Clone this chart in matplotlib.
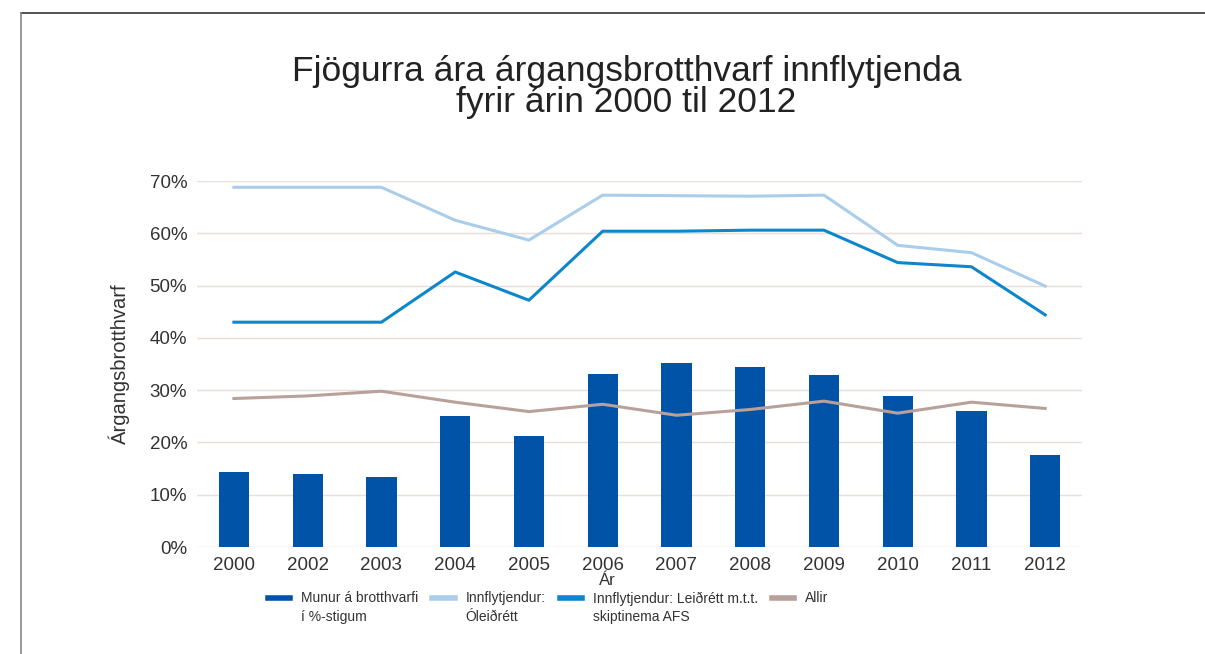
import matplotlib.pyplot as plt
from matplotlib.lines import Line2D
from matplotlib.legend_handler import HandlerLine2D
import numpy as np

years = ["2000", "2002", "2003", "2004", "2005", "2006",
         "2007", "2008", "2009", "2010", "2011", "2012"]
munur = [14.4, 13.9, 13.3, 25.0, 21.2, 33.0, 35.2, 34.5, 32.9, 28.9, 26.1, 17.6]
oleidrett = [68.8, 68.8, 68.8, 62.5, 58.7, 67.3, 67.2, 67.1, 67.3, 57.7, 56.3, 49.9]
leidrett = [43.0, 43.0, 43.0, 52.6, 47.2, 60.4, 60.4, 60.6, 60.6, 54.4, 53.6, 44.4]
allir = [28.4, 28.9, 29.8, 27.7, 25.9, 27.3, 25.2, 26.3, 27.9, 25.6, 27.7, 26.5]

labels = ["Munur á brotthvarfi\ní %-stigum", "Innflytjendur:\nÓleiðrétt",
          "Innflytjendur: Leiðrétt m.t.t.\nskiptinema AFS", "Allir\n "]
c_bar = "#0053a6"
c_light = "#a9cdeb"
c_mid = "#0c87cc"
c_allir = "#b9a19b"

plt.rcParams['font.family'] = ['Liberation Sans', 'DejaVu Sans']


class UpperHandler(HandlerLine2D):
    # put the legend line next to the first line of a two-line label
    def create_artists(self, legend, orig_handle, xdescent, ydescent, width, height, fontsize, trans):
        return super().create_artists(legend, orig_handle, xdescent, ydescent - 15,
                                      width, height, fontsize, trans)


fig = plt.figure(figsize=(12.05, 6.54), dpi=100)
ax = fig.add_axes([0.1635, 0.1636, 0.7345, 0.5596])

x = np.arange(len(years))
ax.bar(x, munur, width=0.41, color=c_bar, zorder=3)
ax.plot(x, oleidrett, color=c_light, lw=2.2, zorder=4)
ax.plot(x, leidrett, color=c_mid, lw=2.2, zorder=4)
ax.plot(x, allir, color=c_allir, lw=2.2, zorder=4)

ax.set_xlim(-0.5, len(years) - 0.5)
ax.set_ylim(0, 70)
ax.set_yticks(range(0, 71, 10))
ax.set_yticklabels([f"{v}%" for v in range(0, 71, 10)])
ax.set_xticks(x)
ax.set_xticklabels(years)
ax.tick_params(length=0, labelsize=13.5, colors="#333333", pad=7)
ax.tick_params(axis="y", pad=7)
ax.grid(axis="y", color="#eadcd8", lw=1, zorder=0)
for s in ax.spines.values():
    s.set_visible(False)

ax.set_ylabel("Árgangsbrotthvarf", fontsize=14.5, color="#333333", labelpad=14)
fig.text(0.504, 0.113, "Ár", ha="center", va="center", fontsize=12, color="#333333")

fig.text(0.52, 0.867, "Fjögurra ára árgangsbrotthvarf innflytjenda\nfyrir árin 2000 til 2012",
         ha="center", va="center", fontsize=25.5, color="#222222", linespacing=0.95)

handles = [Line2D([], [], color=c, lw=4) for c in [c_bar, c_light, c_mid, c_allir]]
leg = fig.legend(handles, labels, ncol=4, loc="upper left", bbox_to_anchor=(0.212, 0.115),
                 frameon=False, handlelength=1.6, handletextpad=0.8,
                 columnspacing=1.0, labelcolor="#333333", fontsize=10,
                 handler_map={Line2D: UpperHandler()})
for t in leg.get_texts():
    t.set_linespacing(1.45)

# frame around the figure
fig.add_artist(Line2D([21 / 1205, 1], [1 - 13 / 654, 1 - 13 / 654], color="#333333", lw=1.2))
fig.add_artist(Line2D([21 / 1205, 21 / 1205], [0, 1 - 13 / 654], color="#888888", lw=1.2))

fig.savefig("out.png", dpi=100)
